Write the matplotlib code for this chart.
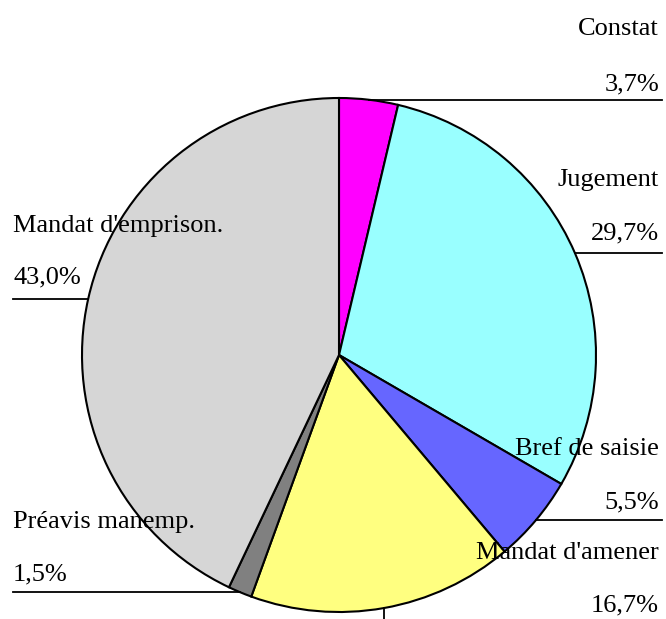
import numpy as np
import matplotlib.pyplot as plt

# slices, clockwise from 12 o'clock
labels = ['Constat', 'Jugement', 'Bref de saisie', "Mandat d'amener",
          'Préavis manemp.', "Mandat d'emprison."]
values = [3.7, 29.7, 5.5, 16.7, 1.5, 43.0]
value_text = ['3,7%', '29,7%', '5,5%', '16,7%', '1,5%', '43,0%']
colors = ['#FF00FF', '#99FFFF', '#6666FF', '#FFFF80', '#808080', '#D6D6D6']

W, H = 666, 619
cx, cy, r = 339, H - 355, 257

# label placement (image pixels from top): name y, value y, side
label_pos = [
    (29, 84, 'right'),
    (180, 233, 'right'),
    (449, 502, 'right'),
    (553, 605, 'right'),
    (522, 574, 'left'),
    (226, 277, 'left'),
]

plt.rcParams['font.family'] = ['Liberation Serif', 'DejaVu Serif']

fig = plt.figure(figsize=(W / 100, H / 100), dpi=100)
ax = fig.add_axes([0, 0, 1, 1])

ax.pie(values, colors=colors, startangle=90, counterclock=False,
       center=(cx, cy), radius=r,
       wedgeprops=dict(edgecolor='black', linewidth=1.5))
ax.set_xlim(0, W)
ax.set_ylim(0, H)
ax.set_aspect('equal')
ax.axis('off')

# leader lines from the middle of each slice
start = 0.0
total = sum(values)
for i, v in enumerate(values):
    mid = (start + v / 2) / total * 2 * np.pi
    start += v
    px = cx + r * np.sin(mid)
    py = cy + r * np.cos(mid)
    ny, vy, side = label_pos[i]
    if labels[i] == "Mandat d'amener":
        ax.plot([px, px], [py, -10], color='black', lw=1.3, clip_on=False)
    elif side == 'right':
        ax.plot([px, 662], [py, py], color='black', lw=1.3)
    else:
        ax.plot([13, px], [py, py], color='black', lw=1.3)

    if side == 'right':
        x, ha = 659, 'right'
    else:
        x, ha = 13, 'left'
    ax.text(x, H - ny, labels[i], ha=ha, va='center', fontsize=19)
    ax.text(x, H - vy, value_text[i], ha=ha, va='center', fontsize=19)

fig.savefig('out.png', dpi=100)
